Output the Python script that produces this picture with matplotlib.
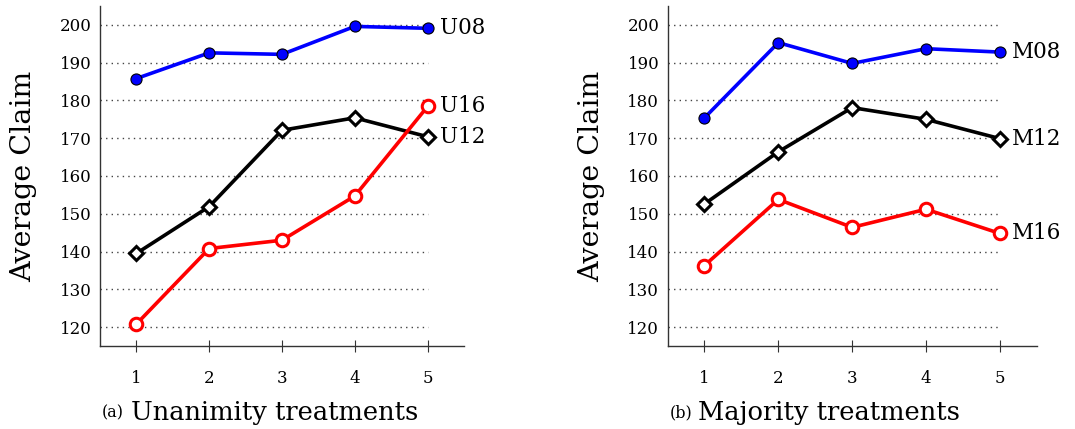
import numpy as np
import matplotlib
matplotlib.use("Agg")
import matplotlib.pyplot as plt

plt.rcParams['font.family'] = ['DejaVu Serif']

treatments = [1, 2, 3, 4, 5]
ylevels = [120, 130, 140, 150, 160, 170, 180, 190, 200]

u08 = [185.8, 192.6, 192.2, 199.6, 199.1]
u12 = [139.5, 151.9, 172.1, 175.4, 170.4]
u16 = [120.8, 140.8, 143.0, 154.7, 178.4]

m08 = [175.4, 195.3, 189.8, 193.7, 192.8]
m12 = [152.6, 166.4, 178.1, 175.0, 169.9]
m16 = [136.3, 153.8, 146.4, 151.2, 144.8]

panels = [
    ([0.093, 0.1935, 0.3386, 0.7925], [("U08", u08), ("U12", u12), ("U16", u16)],
     "(a)", "Unanimity treatments"),
    ([0.621, 0.1935, 0.3434, 0.7925], [("M08", m08), ("M12", m12), ("M16", m16)],
     "(b)", "Majority treatments"),
]

styles = [
    dict(color="blue", marker="o", markersize=8, markerfacecolor="blue",
         markeredgecolor="black", markeredgewidth=0.8),
    dict(color="black", marker="D", markersize=7.5, markerfacecolor="white",
         markeredgecolor="black", markeredgewidth=2.2),
    dict(color="red", marker="o", markersize=9, markerfacecolor="white",
         markeredgecolor="red", markeredgewidth=2.2),
]

fig = plt.figure(figsize=(10.75, 4.29), dpi=100)

for rect, series, tag, caption in panels:
    ax = fig.add_axes(rect)
    ax.hlines(ylevels, 0.5, 5, colors="#444444", linestyles=(0, (1, 3)), linewidth=1.0, zorder=1)
    for (name, vals), st in zip(series, styles):
        ax.plot(treatments, vals, linewidth=2.6, zorder=3, clip_on=False, **st)
        ax.text(5.17, vals[-1], name, fontsize=15.5, va="center", ha="left")
    ax.set_xlim(0.5, 5.5)
    ax.set_ylim(115, 205)
    ax.set_xticks(treatments)
    ax.set_yticks(ylevels)
    ax.tick_params(axis="y", length=0, labelsize=12, pad=6)
    ax.tick_params(axis="x", direction="inout", length=9, labelsize=12, pad=13, color="#333333")
    for s in ["top", "right"]:
        ax.spines[s].set_visible(False)
    for s in ["left", "bottom"]:
        ax.spines[s].set_color("#333333")
        ax.spines[s].set_linewidth(1.0)
    ax.set_ylabel("Average Claim", fontsize=20.5, labelpad=16)
    fig.text(rect[0] + 0.002, 0.038, tag, fontsize=11.5, va="center", ha="left")
    fig.text(rect[0] + 0.0285, 0.038, caption, fontsize=18.5, va="center", ha="left")

fig.savefig("out.png", dpi=100)
